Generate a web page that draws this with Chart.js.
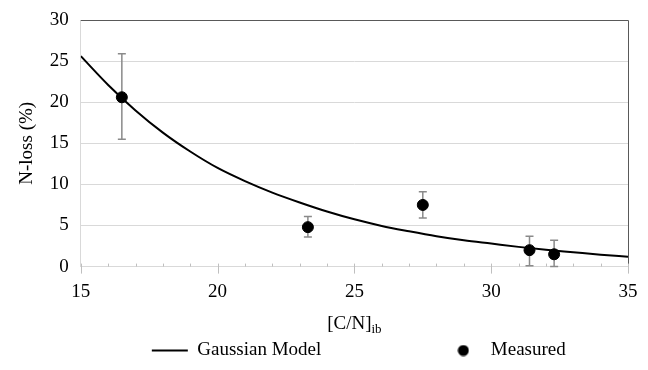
<!DOCTYPE html>
<html lang="en">
<head>
<meta charset="UTF-8">
<script src="https://cdn.jsdelivr.net/npm/chart.js@4.4.1/dist/chart.umd.min.js"></script>
<style>
  html, body { margin: 0; padding: 0; background: #fff; }
  #wrap { width: 648px; height: 370px; }
</style>
</head>
<body>
<div id="wrap"><canvas id="nloss"></canvas></div>
<script>
// Gaussian model curve
var modelX = [15, 16, 17, 18, 19, 20, 21, 22, 23, 24, 25, 26, 27, 28, 29, 30, 31, 32, 33, 34, 35];
var modelY = [25.6, 22.1, 19.0, 16.3, 14.0, 12.0, 10.4, 9.0, 7.8, 6.7, 5.75, 4.95, 4.3, 3.7, 3.2, 2.8, 2.4, 2.05, 1.75, 1.45, 1.2];

// measured points with error bars
var measuredX = [16.5, 23.3, 27.5, 31.4, 32.3];
var measuredY = [20.6, 4.8, 7.5, 2.0, 1.5];
var measuredLow = [15.5, 3.6, 5.9, 0.1, 0];
var measuredHigh = [25.9, 6.1, 9.1, 3.7, 3.2];

var xTicks = [15, 20, 25, 30, 35];
var yTicks = [0, 5, 10, 15, 20, 25, 30];

var FONT = "'Liberation Serif', 'Times New Roman', serif";

function pts(xs, ys) {
    var out = [];
    for (var i = 0; i < xs.length; i++) out.push({x: xs[i], y: ys[i]});
    return out;
}

// round dot used for the "Measured" legend entry
var dot = document.createElement('canvas');
dot.width = 12; dot.height = 12;
var dctx = dot.getContext('2d');
dctx.fillStyle = '#000';
dctx.beginPath(); dctx.arc(6, 6, 5.5, 0, Math.PI * 2); dctx.fill();

var errorBars = {
    id: 'errorBars',
    beforeDatasetsDraw: function (chart) {
        var c = chart.ctx, xs = chart.scales.x, ys = chart.scales.y;
        c.save();
        c.strokeStyle = '#8a8a8a';
        c.lineWidth = 1.5;
        for (var i = 0; i < measuredX.length; i++) {
            var px = xs.getPixelForValue(measuredX[i]);
            var lo = ys.getPixelForValue(measuredLow[i]);
            var hi = ys.getPixelForValue(measuredHigh[i]);
            c.beginPath();
            c.moveTo(px, lo); c.lineTo(px, hi);
            c.moveTo(px - 4, lo); c.lineTo(px + 4, lo);
            c.moveTo(px - 4, hi); c.lineTo(px + 4, hi);
            c.stroke();
        }
        c.restore();
    }
};

var frame = {
    id: 'frame',
    afterDraw: function (chart) {
        var c = chart.ctx, a = chart.chartArea, xs = chart.scales.x;
        c.save();
        // top and right border
        c.strokeStyle = '#595959';
        c.lineWidth = 1;
        c.beginPath();
        c.moveTo(a.left, a.top + 0.5); c.lineTo(a.right + 0.5, a.top + 0.5);
        c.lineTo(a.right + 0.5, a.bottom);
        c.stroke();
        // tick marks on the x axis, one per unit
        c.strokeStyle = '#bfbfbf';
        c.beginPath();
        for (var v = 15; v <= 35; v++) {
            var px = Math.round(xs.getPixelForValue(v)) + 0.5;
            c.moveTo(px, a.bottom - 3);
            c.lineTo(px, a.bottom + (v % 5 === 0 ? 7 : 0));
        }
        c.stroke();
        // x axis title with subscript
        var main = '[C/N]', sub = 'ib';
        c.fillStyle = '#000';
        c.textBaseline = 'alphabetic';
        c.font = '19px ' + FONT;
        var w1 = c.measureText(main).width;
        c.font = '13px ' + FONT;
        var w2 = c.measureText(sub).width;
        var x0 = (a.left + a.right) / 2 - (w1 + w2) / 2;
        var y0 = xs.bottom - 2;
        c.font = '19px ' + FONT;
        c.textAlign = 'left';
        c.fillText(main, x0, y0);
        c.font = '13px ' + FONT;
        c.fillText(sub, x0 + w1, y0 + 4);
        c.restore();
    }
};

var ctx = document.getElementById('nloss').getContext('2d');
var chart = new Chart(ctx, {
    type: 'scatter',
    data: {
        datasets: [
            {
                label: 'Gaussian Model',
                type: 'line',
                data: pts(modelX, modelY),
                borderColor: '#000',
                backgroundColor: '#000',
                borderWidth: 2,
                pointRadius: 0,
                pointStyle: 'line',
                cubicInterpolationMode: 'monotone',
                fill: false
            },
            {
                label: 'Measured',
                data: pts(measuredX, measuredY),
                backgroundColor: '#000',
                borderColor: '#000',
                pointRadius: 5.5,
                pointHoverRadius: 5.5
            }
        ]
    },
    options: {
        responsive: true,
        maintainAspectRatio: false,
        animation: false,
        layout: { padding: { left: 16, right: 20, top: 20, bottom: 0 } },
        plugins: {
            tooltip: { enabled: false },
            legend: {
                position: 'bottom',
                align: 'end',
                labels: {
                    font: { family: FONT, size: 19 },
                    color: '#000',
                    usePointStyle: true,
                    pointStyleWidth: 36,
                    padding: 10,
                    generateLabels: function (ch) {
                        var items = Chart.defaults.plugins.legend.labels.generateLabels(ch);
                        // spaces keep the wide gaps between the two entries
                        items[0].text = items[0].text + ' '.repeat(24);
                        items[0].pointStyle = 'line';
                        items[1].text = items[1].text + ' '.repeat(11);
                        items[1].pointStyle = dot;
                        return items;
                    }
                }
            }
        },
        scales: {
            x: {
                type: 'linear',
                min: 15,
                max: 35,
                afterBuildTicks: function (s) { s.ticks = xTicks.map(function (v) { return {value: v}; }); },
                ticks: { font: { family: FONT, size: 19 }, color: '#000', padding: 2, maxRotation: 0 },
                // invisible tick marks only keep the gap under the axis
                grid: { drawOnChartArea: false, drawTicks: true, tickLength: 12, tickColor: 'rgba(0,0,0,0)' },
                border: { color: '#d9d9d9' },
                title: { display: true, text: '[C/N]ib', color: 'rgba(0,0,0,0)', font: { family: FONT, size: 13 }, padding: { top: 10, bottom: 0 } }
            },
            y: {
                min: 0,
                max: 30,
                afterBuildTicks: function (s) { s.ticks = yTicks.map(function (v) { return {value: v}; }); },
                ticks: { font: { family: FONT, size: 19 }, color: '#000', padding: 2 },
                grid: {
                    drawTicks: true,
                    tickLength: 10,
                    tickColor: 'rgba(0,0,0,0)',
                    color: function (c) { return c.tick && c.tick.value === 30 ? '#595959' : '#d9d9d9'; }
                },
                border: { color: '#d9d9d9' },
                title: { display: true, text: 'N-loss (%)', color: '#000', font: { family: FONT, size: 19 }, padding: { top: 0, bottom: 9 } }
            }
        }
    },
    plugins: [errorBars, frame]
});
</script>
</body>
</html>
